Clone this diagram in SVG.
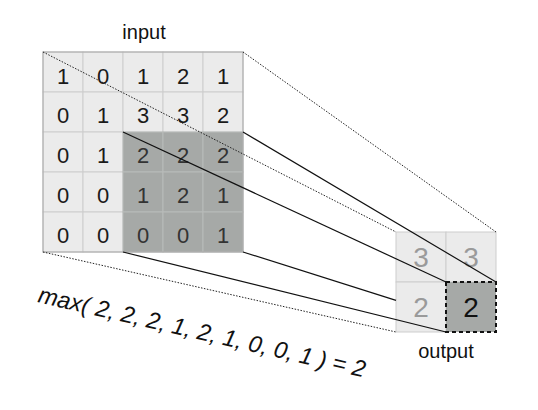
<svg xmlns="http://www.w3.org/2000/svg" width="538" height="410" viewBox="0 0 538 410">
<style>
.lc{fill:#ebebeb;stroke:#cdcdcd;stroke-width:1}
.dc{fill:#a6a9a7;stroke:#b8bbb9;stroke-width:1}
.t{font-family:"Liberation Sans",Arial,sans-serif;font-size:22px;text-anchor:middle;fill:#1a1a1a}
.td{fill:#333}
.to{font-family:"Liberation Sans",Arial,sans-serif;font-size:28px;text-anchor:middle;fill:#9a9a9a}
.lbl{font-family:"Liberation Sans",Arial,sans-serif;font-size:20px;text-anchor:middle;fill:#111}
.dot{stroke:#222;stroke-width:1;stroke-dasharray:1.5 1.5;fill:none}
.sol{stroke:#111;stroke-width:1.2;fill:none}
</style>
<rect width="538" height="410" fill="#fff"/>
<g id="input">
<rect class="lc" x="43" y="52" width="40" height="40"/><rect class="lc" x="83" y="52" width="40" height="40"/><rect class="lc" x="123" y="52" width="40" height="40"/><rect class="lc" x="163" y="52" width="40" height="40"/><rect class="lc" x="203" y="52" width="40" height="40"/>
<rect class="lc" x="43" y="92" width="40" height="40"/><rect class="lc" x="83" y="92" width="40" height="40"/><rect class="lc" x="123" y="92" width="40" height="40"/><rect class="lc" x="163" y="92" width="40" height="40"/><rect class="lc" x="203" y="92" width="40" height="40"/>
<rect class="lc" x="43" y="132" width="40" height="40"/><rect class="lc" x="83" y="132" width="40" height="40"/>
<rect class="lc" x="43" y="172" width="40" height="40"/><rect class="lc" x="83" y="172" width="40" height="40"/>
<rect class="lc" x="43" y="212" width="40" height="40"/><rect class="lc" x="83" y="212" width="40" height="40"/>
<rect class="dc" x="123" y="132" width="40" height="40"/><rect class="dc" x="163" y="132" width="40" height="40"/><rect class="dc" x="203" y="132" width="40" height="40"/>
<rect class="dc" x="123" y="172" width="40" height="40"/><rect class="dc" x="163" y="172" width="40" height="40"/><rect class="dc" x="203" y="172" width="40" height="40"/>
<rect class="dc" x="123" y="212" width="40" height="40"/><rect class="dc" x="163" y="212" width="40" height="40"/><rect class="dc" x="203" y="212" width="40" height="40"/>
<rect x="43" y="52" width="200" height="200" fill="none" stroke="#a8a8a8" stroke-width="1"/>
<text class="t" x="63" y="84">1</text><text class="t" x="103" y="84">0</text><text class="t" x="143" y="84">1</text><text class="t" x="183" y="84">2</text><text class="t" x="223" y="84">1</text>
<text class="t" x="63" y="123">0</text><text class="t" x="103" y="123">1</text><text class="t" x="143" y="123">3</text><text class="t" x="183" y="123">3</text><text class="t" x="223" y="123">2</text>
<text class="t" x="63" y="163">0</text><text class="t" x="103" y="163">1</text><text class="t td" x="143" y="163">2</text><text class="t td" x="183" y="163">2</text><text class="t td" x="223" y="163">2</text>
<text class="t" x="63" y="203">0</text><text class="t" x="103" y="203">0</text><text class="t td" x="143" y="203">1</text><text class="t td" x="183" y="203">2</text><text class="t td" x="223" y="203">1</text>
<text class="t" x="63" y="243">0</text><text class="t" x="103" y="243">0</text><text class="t td" x="143" y="243">0</text><text class="t td" x="183" y="243">0</text><text class="t td" x="223" y="243">1</text>
</g>
<g id="output">
<rect class="lc" x="396" y="232" width="50" height="50"/><rect class="lc" x="446" y="232" width="50" height="50"/>
<rect class="lc" x="396" y="282" width="50" height="50"/>
<rect x="446" y="282" width="50" height="50" fill="#a6a9a7"/>
<text class="to" x="421" y="267">3</text><text class="to" x="471" y="267">3</text>
<text class="to" x="421" y="317">2</text><text class="to" x="471" y="317" style="fill:#111">2</text>
</g>
<g id="connectors">
<line class="dot" x1="43" y1="52" x2="396" y2="232"/>
<line class="dot" x1="243" y1="52" x2="496" y2="232"/>
<line class="dot" x1="43" y1="252" x2="396" y2="332"/>
<line class="sol" x1="123" y1="132" x2="446" y2="282"/>
<line class="sol" x1="243" y1="132" x2="496" y2="282"/>
<line class="sol" x1="123" y1="252" x2="446" y2="332"/>
<line class="sol" x1="243" y1="252" x2="396" y2="300.4"/>
</g>
<g id="highlight">
<rect x="446" y="282" width="50" height="50" fill="none" stroke="#111" stroke-width="2" stroke-dasharray="4 3"/>
</g>
<g id="labels">
<text class="lbl" x="144" y="39">input</text>
<text class="lbl" x="446" y="358">output</text>
<text x="0" y="0" transform="translate(37,302) rotate(13)" font-family="Liberation Sans, Arial, sans-serif" font-size="23.5" font-style="italic" fill="#111">max( 2, 2, 2, 1, 2, 1, 0, 0, 1 ) = 2</text>
</g>
</svg>
